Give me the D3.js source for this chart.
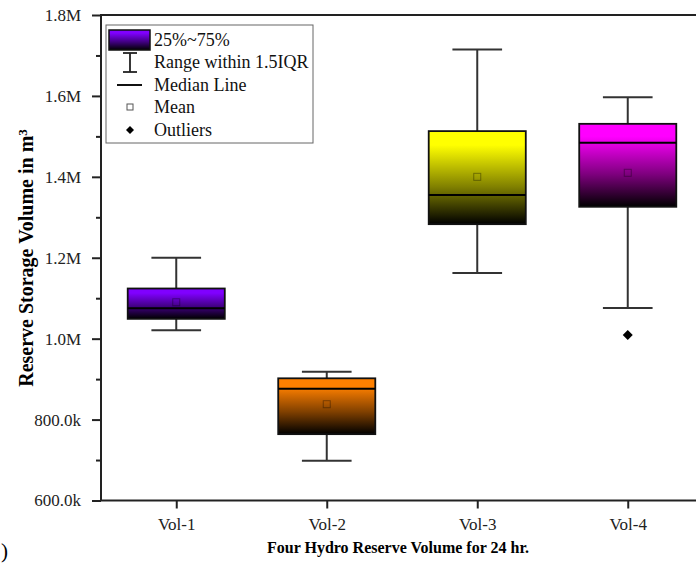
<!DOCTYPE html>
<html>
<head>
<meta charset="utf-8">
<script src="https://cdn.jsdelivr.net/npm/d3@7"></script>
<style>
  body { margin: 0; background: #fff; }
  svg { display: block; font-family: "Liberation Serif", "Times New Roman", serif; }
</style>
</head>
<body>
<svg id="chart" width="696" height="564"></svg>
<script>
// box plot values (m3)
const categories = ['Vol-1', 'Vol-2', 'Vol-3', 'Vol-4'];
const whiskerLow = [1021000, 698000, 1162000, 1076000];
const q1 = [1049000, 764000, 1283000, 1326000];
const medians = [1075000, 876000, 1355000, 1484000];
const q3 = [1124000, 902000, 1513000, 1531000];
const whiskerHigh = [1200000, 918000, 1715000, 1597000];
const means = [1090000, 838000, 1400000, 1410000];
const outliers = [[], [], [], [1009000]];
const boxColors = ['#8000ff', '#ff8000', '#ffff00', '#ff00ff'];

const yTicks = [600000, 800000, 1000000, 1200000, 1400000, 1600000, 1800000];
const yTickLabels = ['600.0k', '800.0k', '1.0M', '1.2M', '1.4M', '1.6M', '1.8M'];
const yMinorTicks = [700000, 900000, 1100000, 1300000, 1500000, 1700000];

const legendLabels = ['25%~75%', 'Range within 1.5IQR', 'Median Line', 'Mean', 'Outliers'];

const data = categories.map((c, i) => ({
    name: c,
    lo: whiskerLow[i], q1: q1[i], med: medians[i], q3: q3[i], hi: whiskerHigh[i],
    mean: means[i], out: outliers[i], color: boxColors[i], idx: i
}));

const svg = d3.select('#chart');
const margin = { top: 15, left: 101 };
const plotRight = 703;   // frame runs past the right edge of the picture
const plotBottom = 500.5;

const x = d3.scalePoint()
    .domain(categories)
    .range([margin.left, plotRight])
    .padding(0.5);

const y = d3.scaleLinear()
    .domain([600000, 1800000])
    .range([plotBottom, margin.top]);

const boxW = x.step() * 0.645;
const capW = x.step() * 0.33;

// gradients: colour at the top fading to black
const defs = svg.append('defs');
data.forEach(d => {
    const g = defs.append('linearGradient')
        .attr('id', 'grad' + d.idx)
        .attr('x1', 0).attr('y1', 0).attr('x2', 0).attr('y2', 1);
    g.append('stop').attr('offset', '0%').attr('stop-color', d.color);
    g.append('stop').attr('offset', '15%').attr('stop-color', d.color);
    g.append('stop').attr('offset', '60%').attr('stop-color', d3.interpolateRgb(d.color, '#000')(0.5));
    g.append('stop').attr('offset', '100%').attr('stop-color', '#000');
});

// whiskers
const boxes = svg.append('g')
    .selectAll('g')
    .data(data)
    .join('g');

boxes.append('line')
    .attr('x1', d => x(d.name)).attr('x2', d => x(d.name))
    .attr('y1', d => y(d.hi)).attr('y2', d => y(d.lo))
    .attr('stroke', '#333').attr('stroke-width', 2);

boxes.selectAll('.cap')
    .data(d => [d.lo, d.hi].map(v => ({ v, name: d.name })))
    .join('line')
    .attr('class', 'cap')
    .attr('x1', d => x(d.name) - capW / 2).attr('x2', d => x(d.name) + capW / 2)
    .attr('y1', d => y(d.v)).attr('y2', d => y(d.v))
    .attr('stroke', '#333').attr('stroke-width', 2);

boxes.append('rect')
    .attr('x', d => x(d.name) - boxW / 2)
    .attr('width', boxW)
    .attr('y', d => y(d.q3))
    .attr('height', d => y(d.q1) - y(d.q3))
    .attr('fill', d => 'url(#grad' + d.idx + ')')
    .attr('stroke', '#111').attr('stroke-width', 1.8);

boxes.append('line')
    .attr('x1', d => x(d.name) - boxW / 2).attr('x2', d => x(d.name) + boxW / 2)
    .attr('y1', d => y(d.med)).attr('y2', d => y(d.med))
    .attr('stroke', '#000').attr('stroke-width', 2);

boxes.append('rect')
    .attr('x', d => x(d.name) - 3.5)
    .attr('y', d => y(d.mean) - 3.5)
    .attr('width', 7).attr('height', 7)
    .attr('fill', 'none')
    .attr('stroke', '#000').attr('stroke-opacity', 0.35).attr('stroke-width', 1);

// square diamond marker
const diamond = 'M0,-5L5,0L0,5L-5,0Z';
boxes.selectAll('.outlier')
    .data(d => d.out.map(v => ({ v, name: d.name })))
    .join('path')
    .attr('class', 'outlier')
    .attr('d', diamond)
    .attr('transform', d => `translate(${x(d.name)},${y(d.v)})`)
    .attr('fill', '#000');

// frame
svg.append('rect')
    .attr('x', margin.left).attr('y', margin.top)
    .attr('width', plotRight - margin.left)
    .attr('height', plotBottom - margin.top)
    .attr('fill', 'none')
    .attr('stroke', '#222').attr('stroke-width', 2);

// y axis
const yAxis = svg.append('g')
    .attr('transform', `translate(${margin.left},0)`)
    .call(d3.axisLeft(y)
        .tickValues(yTicks)
        .tickFormat((d, i) => yTickLabels[i])
        .tickSize(9)
        .tickPadding(11));
yAxis.attr('font-family', null).attr('font-size', null);
yAxis.select('.domain').remove();
yAxis.selectAll('line').attr('stroke', '#222').attr('stroke-width', 2);
yAxis.selectAll('text')
    .style('font-size', '17px')
    .attr('fill', '#222');

const yMinor = svg.append('g')
    .attr('transform', `translate(${margin.left},0)`)
    .call(d3.axisLeft(y).tickValues(yMinorTicks).tickFormat('').tickSize(5));
yMinor.select('.domain').remove();
yMinor.selectAll('line').attr('stroke', '#222').attr('stroke-width', 2);

// x axis
const xAxis = svg.append('g')
    .attr('transform', `translate(0,${plotBottom})`)
    .call(d3.axisBottom(x).tickSize(8).tickPadding(9));
xAxis.attr('font-family', null).attr('font-size', null);
xAxis.select('.domain').remove();
xAxis.selectAll('line').attr('stroke', '#222').attr('stroke-width', 2);
xAxis.selectAll('text')
    .style('font-size', '17px')
    .attr('fill', '#222');

// axis titles
svg.append('text')
    .attr('x', 398).attr('y', 553)
    .attr('text-anchor', 'middle')
    .style('font-size', '16px')
    .style('font-weight', 'bold')
    .text('Four Hydro Reserve Volume for 24 hr.');

const yTitle = svg.append('text')
    .attr('transform', 'translate(33,258) rotate(-90)')
    .attr('text-anchor', 'middle')
    .style('font-size', '20px')
    .style('font-weight', 'bold');
yTitle.append('tspan').text('Reserve Storage Volume in m');
yTitle.append('tspan').attr('dy', '-0.45em').style('font-size', '13px').text('3');

// panel label fragment at the bottom-left corner
svg.append('text')
    .attr('x', 1).attr('y', 558)
    .style('font-size', '21px')
    .text(')');

// legend
const lg = svg.append('g');
lg.append('rect')
    .attr('x', 106).attr('y', 25)
    .attr('width', 207).attr('height', 118)
    .attr('fill', '#fff')
    .attr('stroke', '#666').attr('stroke-width', 1);

const rowY = [40, 62, 85, 107, 130];
lg.selectAll('.lab')
    .data(legendLabels)
    .join('text')
    .attr('class', 'lab')
    .attr('x', 154)
    .attr('y', (d, i) => rowY[i] + 6)
    .style('font-size', '18px')
    .attr('fill', '#111')
    .text(d => d);

lg.append('rect')
    .attr('x', 109).attr('y', 30)
    .attr('width', 41).attr('height', 20)
    .attr('fill', 'url(#grad0)')
    .attr('stroke', '#111').attr('stroke-width', 1.5);

const ix = 130;
lg.append('line').attr('x1', ix).attr('x2', ix).attr('y1', 53).attr('y2', 72)
    .attr('stroke', '#222').attr('stroke-width', 1.8);
[53, 72].forEach(v => {
    lg.append('line').attr('x1', ix - 7).attr('x2', ix + 7).attr('y1', v).attr('y2', v)
        .attr('stroke', '#222').attr('stroke-width', 1.8);
});
lg.append('line').attr('x1', 117).attr('x2', 142).attr('y1', rowY[2]).attr('y2', rowY[2])
    .attr('stroke', '#111').attr('stroke-width', 2);
lg.append('rect').attr('x', ix - 3).attr('y', rowY[3] - 3).attr('width', 6).attr('height', 6)
    .attr('fill', 'none').attr('stroke', '#555').attr('stroke-width', 1);
lg.append('path').attr('d', 'M0,-4L4,0L0,4L-4,0Z')
    .attr('transform', `translate(${ix},${rowY[4]})`)
    .attr('fill', '#000');
</script>
</body>
</html>
